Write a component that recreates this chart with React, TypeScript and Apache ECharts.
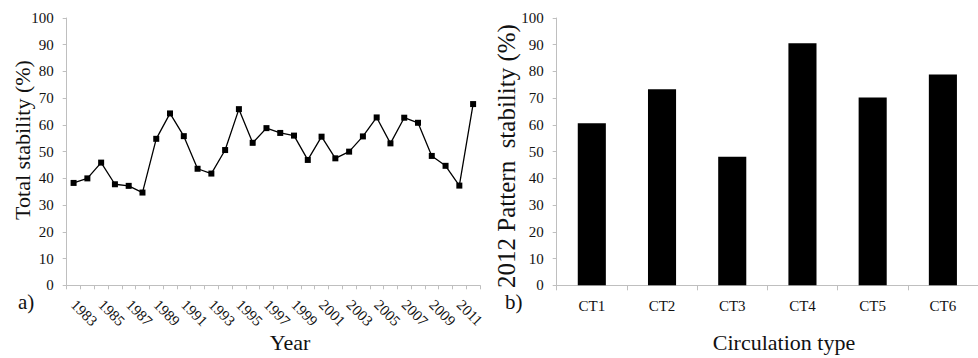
import { useEffect, useRef } from "react";
import * as echarts from "echarts";

const years = [
  "1983", "1984", "1985", "1986", "1987", "1988", "1989", "1990", "1991", "1992",
  "1993", "1994", "1995", "1996", "1997", "1998", "1999", "2000", "2001", "2002",
  "2003", "2004", "2005", "2006", "2007", "2008", "2009", "2010", "2011", "2012",
];
const totalStability = [
  38.3, 40.0, 45.9, 37.8, 37.2, 34.7, 54.8, 64.3, 55.8, 43.6,
  41.8, 50.6, 65.9, 53.3, 58.8, 57.0, 56.0, 46.9, 55.6, 47.5,
  50.0, 55.7, 62.8, 53.1, 62.7, 60.8, 48.4, 44.7, 37.3, 67.8,
];
const circulationTypes = ["CT1", "CT2", "CT3", "CT4", "CT5", "CT6"];
const patternStability = [60.6, 73.3, 48.1, 90.6, 70.3, 78.9];
const yTicks = { min: 0, max: 100, interval: 10 };

const FONT = "Liberation Serif";
const LABEL_FONT = "'Liberation Serif', 'Times New Roman', serif";
const AXIS_GRAY = "#bfbfbf";
const TEXT = "#111";

export default function App() {
  const ref = useRef<HTMLDivElement>(null);
  useEffect(() => {
    document.body.style.margin = "0";
    const chart = echarts.init(ref.current!, null, { renderer: "svg" });
    const axisLine = { show: true, lineStyle: { color: AXIS_GRAY, width: 1 } };
    const axisTick = { show: true, length: 4, lineStyle: { color: AXIS_GRAY, width: 1 } };
    const labelStyle = { fontFamily: LABEL_FONT, fontSize: 15, color: TEXT, fontWeight: "normal" };
    const yAxisBase = {
      type: "value",
      min: yTicks.min,
      max: yTicks.max,
      interval: yTicks.interval,
      axisLine,
      axisTick,
      splitLine: { show: false },
      axisLabel: { ...labelStyle, margin: 13 },
    };
    chart.setOption({
      animation: false,
      textStyle: { fontFamily: LABEL_FONT },
      grid: [
        { left: 66.7, top: 18, width: 413.3, height: 267.3 },
        { left: 556.7, top: 18, width: 432.5, height: 267.3 },
      ],
      xAxis: [
        {
          gridIndex: 0,
          type: "category",
          data: years,
          boundaryGap: true,
          axisLine,
          axisTick: { ...axisTick, interval: 0 },
          axisLabel: { ...labelStyle, interval: 1, rotate: -45, margin: 17 },
        },
        {
          gridIndex: 1,
          type: "category",
          data: circulationTypes,
          boundaryGap: true,
          axisLine,
          axisTick: { ...axisTick, length: 5, interval: 0 },
          axisLabel: { ...labelStyle, interval: 0, margin: 13 },
        },
      ],
      yAxis: [
        { ...yAxisBase, gridIndex: 0 },
        { ...yAxisBase, gridIndex: 1 },
      ],
      series: [
        {
          type: "line",
          xAxisIndex: 0,
          yAxisIndex: 0,
          data: totalStability,
          symbol: "rect",
          symbolSize: 6,
          lineStyle: { color: "#000", width: 1.3 },
          itemStyle: { color: "#000" },
        },
        {
          type: "bar",
          xAxisIndex: 1,
          yAxisIndex: 1,
          data: patternStability,
          barWidth: "40%",
          itemStyle: { color: "#000" },
        },
      ],
      graphic: [
        {
          type: "text",
          x: 22.7,
          y: 140,
          rotation: Math.PI / 2,
          style: { text: "Total stability (%)", font: `22px ${FONT}`, fill: TEXT, align: "center", verticalAlign: "middle" },
        },
        {
          type: "text",
          x: 506,
          y: 156,
          rotation: Math.PI / 2,
          style: { text: "2012 Pattern  stability (%)", font: `25px ${FONT}`, fill: TEXT, align: "center", verticalAlign: "middle" },
        },
        {
          type: "text",
          x: 290,
          y: 342.5,
          style: { text: "Year", font: `22px ${FONT}`, fill: TEXT, align: "center", verticalAlign: "middle" },
        },
        {
          type: "text",
          x: 784,
          y: 342.5,
          style: { text: "Circulation type", font: `22px ${FONT}`, fill: TEXT, align: "center", verticalAlign: "middle" },
        },
        {
          type: "text",
          x: 18,
          y: 302,
          style: { text: "a)", font: `21px ${FONT}`, fill: TEXT, align: "left", verticalAlign: "middle" },
        },
        {
          type: "text",
          x: 505,
          y: 302,
          style: { text: "b)", font: `21px ${FONT}`, fill: TEXT, align: "left", verticalAlign: "middle" },
        },
      ],
    });
    return () => chart.dispose();
  }, []);
  return <div ref={ref} style={{ position: "absolute", left: 0, top: 0, width: 978, height: 358 }} />;
}
